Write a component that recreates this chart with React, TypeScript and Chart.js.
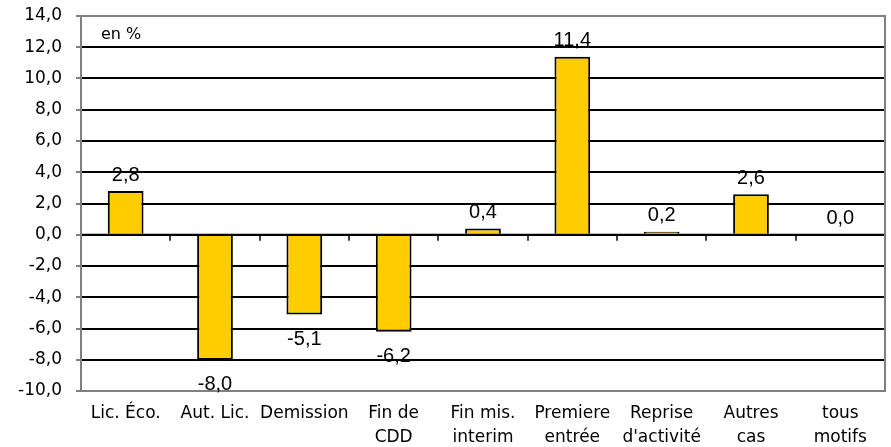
import React, { useEffect, useRef } from "react";
import { Chart, registerables } from "chart.js";

Chart.register(...registerables);

const categories: string[][] = [
  ["Lic. Éco."],
  ["Aut. Lic."],
  ["Demission"],
  ["Fin de", "CDD"],
  ["Fin mis.", "interim"],
  ["Premiere", "entrée"],
  ["Reprise", "d'activité"],
  ["Autres", "cas"],
  ["tous", "motifs"],
];
const values: number[] = [2.8, -8.0, -5.1, -6.2, 0.4, 11.4, 0.2, 2.6, 0.0];
const yMin = -10;
const yMax = 14;
const yStep = 2;
const unitLabel = "en %";

const fmt = (v: number) => v.toFixed(1).replace(".", ",");

const overlay = {
  id: "overlay",
  afterDatasetsDraw(chart: any) {
    const { ctx, chartArea } = chart;
    const y = chart.scales.y;
    ctx.save();
    const y0 = y.getPixelForValue(0);
    ctx.strokeStyle = "#000";
    ctx.lineWidth = 2;
    ctx.beginPath();
    ctx.moveTo(chartArea.left, y0);
    ctx.lineTo(chartArea.right, y0);
    ctx.stroke();
    const n = categories.length;
    const w = (chartArea.right - chartArea.left) / n;
    ctx.lineWidth = 1.5;
    for (let k = 1; k <= n; k++) {
      const px = Math.round(chartArea.left + k * w);
      ctx.beginPath();
      ctx.moveTo(px, y0);
      ctx.lineTo(px, y0 + 6);
      ctx.stroke();
    }
    ctx.strokeStyle = "#808080";
    ctx.lineWidth = 2;
    ctx.strokeRect(chartArea.left, chartArea.top, chartArea.right - chartArea.left, chartArea.bottom - chartArea.top);
    ctx.fillStyle = "#000";
    ctx.font = "16px 'DejaVu Sans'";
    ctx.textAlign = "left";
    ctx.textBaseline = "middle";
    ctx.fillText(unitLabel, chartArea.left + 20, chartArea.top + 19);
    ctx.font = "20px 'Liberation Sans'";
    ctx.textAlign = "center";
    const meta = chart.getDatasetMeta(0);
    meta.data.forEach((bar: any, i: number) => {
      const v = values[i];
      const ty = v >= 0 ? bar.y - 16 : bar.y + 25;
      ctx.fillText(fmt(v), bar.x, ty);
    });
    ctx.restore();
  },
};

export default function App() {
  const ref = useRef<HTMLCanvasElement>(null);
  useEffect(() => {
    if (!ref.current) return;
    const chart = new Chart(ref.current, {
      type: "bar",
      data: {
        labels: categories,
        datasets: [
          {
            data: values,
            backgroundColor: "#FFCC00",
            borderColor: "#000",
            borderWidth: 2,
            barPercentage: 0.4,
            categoryPercentage: 1,
          },
        ],
      },
      options: {
        animation: false,
        responsive: false,
        layout: { padding: { top: 16, right: 6, left: 0, bottom: 0 } },
        plugins: { legend: { display: false }, tooltip: { enabled: false } },
        scales: {
          x: {
            grid: { display: false, drawTicks: false },
            border: { display: false },
            ticks: {
              color: "#000",
              font: { family: "'DejaVu Sans'", size: 17, lineHeight: 1.45 },
              padding: 10,
              maxRotation: 0,
              autoSkip: false,
            },
            afterFit: (s: any) => {
              s.height = 56;
              s.paddingLeft = 0;
              s.paddingRight = 0;
            },
          },
          y: {
            min: yMin,
            max: yMax,
            border: { display: false },
            grid: {
              color: (c: any) =>
                c.tick && (c.tick.value === yMin || c.tick.value === yMax) ? "rgba(0,0,0,0)" : "#000",
              tickColor: "#808080",
              lineWidth: 2,
              tickLength: 5,
            },
            ticks: {
              stepSize: yStep,
              color: "#000",
              font: { family: "'DejaVu Sans'", size: 17 },
              padding: 14,
              callback: (v: any) => fmt(Number(v)),
            },
            afterFit: (s: any) => {
              s.width = 81;
              s.paddingTop = 0;
              s.paddingBottom = 0;
            },
          },
        },
      },
      plugins: [overlay],
    });
    return () => chart.destroy();
  }, []);
  return (
    <div style={{ position: "absolute", left: 0, top: 0, width: 891, height: 447, background: "#fff" }}>
      <canvas ref={ref} width={891} height={447} />
    </div>
  );
}
